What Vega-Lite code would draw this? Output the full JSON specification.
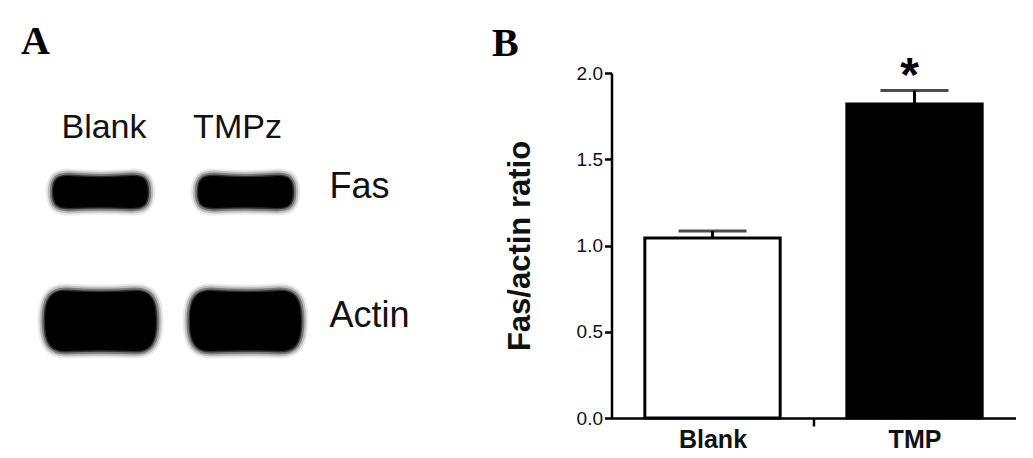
{
  "$schema": "https://vega.github.io/schema/vega-lite/v6.json",
  "padding": {"left": 15, "top": 22, "right": 10, "bottom": 5},
  "background": "white",
  "bounds": "flush",
  "spacing": 293.5,
  "config": {"view": {"stroke": null}, "font": "Liberation Sans", "axis": {"grid": false}},
  "hconcat": [
    {
      "width": 290,
      "height": 345,
      "title": {"text": "A", "anchor": "start", "frame": "group", "font": "Liberation Serif", "fontSize": 40, "fontWeight": "bold", "color": "#000", "baseline": "alphabetic", "offset": -21, "dx": -7},
      "data": {"values": [
        {"lane": "Blank", "protein": "Fas"},
        {"lane": "TMPz", "protein": "Fas"},
        {"lane": "Blank", "protein": "Actin"},
        {"lane": "TMPz", "protein": "Actin"}
      ]},
      "encoding": {
        "x": {"field": "lane", "type": "nominal", "sort": ["Blank", "TMPz"], "scale": {"type": "point", "padding": 0.5},
          "axis": {"orient": "top", "offset": -66, "title": null, "domain": false, "ticks": false, "tickSize": 0, "labelPadding": 2, "labelBaseline": "alphabetic", "labelFontSize": 34, "labelColor": "#111", "labelAngle": 0,
            "labelOffset": {"condition": {"test": "datum.value === 'TMPz'", "value": -8.5}, "value": 3}}},
        "y": {"field": "protein", "type": "nominal", "sort": ["Fas", "Actin"], "scale": {"type": "point", "padding": 0.837, "align": 0.551},
          "axis": {"orient": "right", "title": null, "domain": false, "ticks": false, "tickSize": 0, "labelPadding": 11, "labelFontSize": 36, "labelColor": "#111", "labelOffset": -6, "labelAlign": "left", "labelBaseline": "middle"}},
        "shape": {"field": "protein", "type": "nominal", "scale": {"domain": ["Fas", "Actin"], "range": [
          "M -3.15 0 C -3.15 -0.85 -2.85 -1.06 -2.1 -1.06 C -0.9 -0.96 0.9 -0.96 2.1 -1.06 C 2.85 -1.06 3.15 -0.85 3.15 0 C 3.15 0.85 2.85 1.06 2.1 1.06 C 0.9 1.0 -0.9 1.0 -2.1 1.06 C -2.85 1.06 -3.15 0.85 -3.15 0 Z",
          "M -3.7 0 C -3.7 -1.55 -3.25 -2.0 -2.3 -2.0 C -0.9 -1.9 0.9 -1.9 2.3 -2.0 C 3.25 -2.0 3.7 -1.55 3.7 0 C 3.7 1.55 3.25 2.0 2.3 2.0 C 0.9 1.93 -0.9 1.93 -2.3 2.0 C -3.25 2.0 -3.7 1.55 -3.7 0 Z"
        ]}, "legend": null}
      },
      "layer": [
        {"mark": {"type": "point", "filled": true, "size": 900, "color": "#000", "stroke": "#000", "strokeWidth": 15, "opacity": 0.08}},
        {"mark": {"type": "point", "filled": true, "size": 900, "color": "#000", "stroke": "#000", "strokeWidth": 11, "opacity": 0.18}},
        {"mark": {"type": "point", "filled": true, "size": 900, "color": "#000", "stroke": "#000", "strokeWidth": 7, "opacity": 0.35}},
        {"mark": {"type": "point", "filled": true, "size": 900, "color": "#000", "stroke": "#000", "strokeWidth": 3, "opacity": 0.6}},
        {"mark": {"type": "point", "filled": true, "size": 900, "color": "#000", "strokeWidth": 0, "opacity": 1}}
      ]
    },
    {
      "width": 404,
      "height": 345,
      "title": {"text": "B", "anchor": "start", "frame": "bounds", "font": "Liberation Serif", "fontSize": 40, "fontWeight": "bold", "color": "#000", "baseline": "alphabetic", "offset": -43, "dx": -12},
      "data": {"values": [
        {"group": "Blank", "mean": 1.043, "upper": 1.084, "sig": ""},
        {"group": "TMP", "mean": 1.82, "upper": 1.898, "sig": "*"}
      ]},
      "encoding": {
        "x": {"field": "group", "type": "nominal", "sort": ["Blank", "TMP"], "scale": {"type": "band", "paddingInner": 0.33, "paddingOuter": 0.165},
          "axis": {"title": null, "labelAngle": 0, "domainColor": "#000", "domainWidth": 2.5, "tickSize": 8, "tickWidth": 2.5, "tickColor": "#000", "tickOffset": 101,
            "tickOpacity": {"condition": {"test": "datum.value === 'Blank'", "value": 1}, "value": 0},
            "labelOffset": -101,
            "labelFontSize": 25, "labelFontWeight": "bold", "labelColor": "#111", "labelPadding": 1}}
      },
      "layer": [
        {
          "mark": {"type": "bar", "stroke": "#000", "strokeWidth": 3},
          "encoding": {
            "y": {"field": "mean", "type": "quantitative", "scale": {"domain": [0, 2], "nice": false},
              "axis": {"values": [0, 0.5, 1, 1.5, 2], "format": ".1f", "domainColor": "#000", "domainWidth": 2.5, "tickColor": "#000", "tickWidth": 2.5, "tickSize": 7, "labelFontSize": 19, "labelPadding": 2, "labelColor": "#111", "title": "Fas/actin ratio", "titleFontSize": 31, "titleFontWeight": "bold", "titleColor": "#111", "titlePadding": 40}},
            "fill": {"field": "group", "type": "nominal", "scale": {"domain": ["Blank", "TMP"], "range": ["#ffffff", "#000000"]}, "legend": null}
          }
        },
        {
          "mark": {"type": "rule", "strokeWidth": 3, "color": "#000"},
          "encoding": {"y": {"field": "mean", "type": "quantitative"}, "y2": {"field": "upper"}}
        },
        {
          "mark": {"type": "tick", "size": 68, "thickness": 3, "color": "#000", "orient": "horizontal"},
          "encoding": {"y": {"field": "upper", "type": "quantitative"}}
        },
        {
          "mark": {"type": "text", "fontSize": 48, "fontWeight": "bold", "baseline": "alphabetic", "dy": 0, "dx": -5, "color": "#000"},
          "encoding": {"y": {"field": "upper", "type": "quantitative"}, "text": {"field": "sig"}}
        }
      ]
    }
  ]
}
